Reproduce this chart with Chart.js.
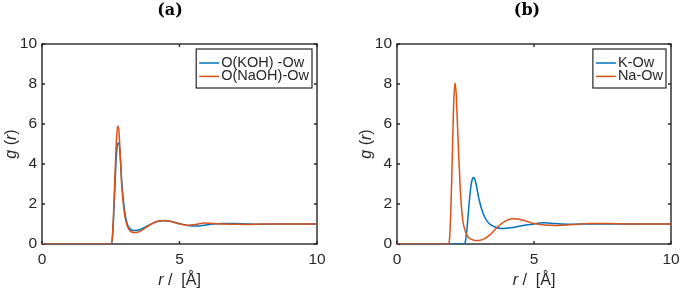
<!DOCTYPE html>
<html>
<head>
<meta charset="utf-8">
<script src="https://cdn.jsdelivr.net/npm/chart.js@4.4.0/dist/chart.umd.min.js"></script>
<style>
  html, body { margin: 0; padding: 0; background: #fff; overflow: hidden; }
  .panel { position: absolute; top: 0; width: 340px; height: 291px; }
  #panelA { left: 0; }
  #panelB { left: 340px; }
</style>
</head>
<body>
<div class="panel" id="panelA"><canvas id="chartA" width="340" height="291"></canvas></div>
<div class="panel" id="panelB"><canvas id="chartB" width="340" height="291"></canvas></div>
<script>
// axis ticks (both panels)
const xTicks = [0, 5, 10];
const yTicks = [0, 2, 4, 6, 8, 10];

// panel (a): O(KOH)-Ow and O(NaOH)-Ow
const rA = [0, 2.5, 2.55, 2.6, 2.65, 2.7, 2.75, 2.8, 2.85, 2.9, 3.0, 3.1, 3.2, 3.3, 3.4, 3.6, 3.8, 4.0, 4.2, 4.45, 4.7, 5.0, 5.3, 5.6, 5.9, 6.2, 6.6, 7.0, 7.5, 8, 9, 10];
const gKOH = [0, 0, 0.15, 1.2, 2.8, 4.3, 5.0, 5.05, 4.3, 3.1, 1.7, 1.0, 0.76, 0.68, 0.67, 0.74, 0.88, 1.02, 1.12, 1.16, 1.12, 1.02, 0.93, 0.9, 0.94, 1.0, 1.03, 1.03, 1.0, 0.99, 1.0, 1.0];
const gNaOH = [0, 0, 0.2, 1.5, 3.3, 5.0, 5.9, 5.6, 4.3, 2.9, 1.5, 0.9, 0.66, 0.58, 0.57, 0.66, 0.84, 1.02, 1.14, 1.18, 1.12, 1.0, 0.94, 0.98, 1.05, 1.03, 1.0, 0.99, 0.98, 1.0, 1.0, 1.0];

// panel (b): K-Ow and Na-Ow
const rK = [0, 2.45, 2.5, 2.55, 2.6, 2.65, 2.7, 2.75, 2.8, 2.85, 2.9, 3.0, 3.1, 3.2, 3.3, 3.4, 3.6, 3.8, 4.0, 4.3, 4.6, 5.0, 5.3, 5.6, 6.0, 6.5, 7.0, 7.5, 8.0, 9.0, 10];
const gK = [0, 0, 0.15, 0.7, 1.5, 2.3, 2.9, 3.25, 3.33, 3.2, 2.9, 2.2, 1.7, 1.35, 1.12, 0.98, 0.84, 0.78, 0.79, 0.84, 0.92, 1.0, 1.06, 1.04, 1.0, 0.99, 1.0, 1.0, 1.0, 1.0, 1.0];
const rNa = [0, 1.88, 1.92, 1.96, 2.0, 2.04, 2.08, 2.12, 2.16, 2.2, 2.25, 2.3, 2.35, 2.4, 2.5, 2.6, 2.7, 2.8, 2.9, 3.0, 3.2, 3.4, 3.6, 3.8, 4.0, 4.2, 4.4, 4.7, 5.0, 5.4, 5.8, 6.2, 6.6, 7.0, 7.5, 8.0, 9.0, 10];
const gNa = [0, 0, 0.3, 1.5, 3.4, 5.6, 7.4, 8.05, 7.5, 6.2, 4.5, 3.0, 1.9, 1.2, 0.6, 0.35, 0.24, 0.19, 0.17, 0.18, 0.27, 0.47, 0.75, 1.0, 1.18, 1.26, 1.25, 1.15, 1.02, 0.95, 0.93, 0.95, 0.99, 1.03, 1.03, 1.01, 1.0, 1.0];

const blue = '#0072BD';
const orange = '#D95319';
const ink = '#262626';
const sans = '"Liberation Sans", Arial, sans-serif';

function series(label, r, g, color, order) {
  return {
    label: label,
    data: r.map((x, i) => ({ x: x, y: g[i] })),
    borderColor: color,
    backgroundColor: color,
    borderWidth: 1.5,
    pointRadius: 0,
    fill: false,
    cubicInterpolationMode: 'monotone',
    order: order
  };
}

// draw text made of upright / italic pieces, centred on (x, y)
function drawRich(ctx, parts, x, y, size, rotate) {
  ctx.save();
  ctx.translate(x, y);
  if (rotate) ctx.rotate(-Math.PI / 2);
  const fonts = parts.map(p => (p[1] ? 'italic ' : '') + size + 'px ' + sans);
  let total = 0;
  const widths = parts.map((p, i) => {
    ctx.font = fonts[i];
    const w = ctx.measureText(p[0]).width;
    total += w;
    return w;
  });
  let cx = -total / 2;
  ctx.textAlign = 'left';
  ctx.textBaseline = 'middle';
  ctx.fillStyle = ink;
  parts.forEach((p, i) => {
    ctx.font = fonts[i];
    ctx.fillText(p[0], cx, 0);
    cx += widths[i];
  });
  ctx.restore();
}

// MATLAB style box with inward ticks on all sides
const framePlugin = {
  id: 'frame',
  beforeDatasetsDraw(chart) {
    const { ctx, chartArea: a, scales } = chart;
    ctx.save();
    ctx.strokeStyle = ink;
    ctx.lineWidth = 1.4;
    ctx.strokeRect(a.left, a.top, a.right - a.left, a.bottom - a.top);
    ctx.beginPath();
    xTicks.forEach(v => {
      const px = scales.x.getPixelForValue(v);
      ctx.moveTo(px, a.bottom); ctx.lineTo(px, a.bottom - 3);
      ctx.moveTo(px, a.top); ctx.lineTo(px, a.top + 3);
    });
    yTicks.forEach(v => {
      const py = scales.y.getPixelForValue(v);
      ctx.moveTo(a.left, py); ctx.lineTo(a.left + 3, py);
      ctx.moveTo(a.right, py); ctx.lineTo(a.right - 3, py);
    });
    ctx.stroke();
    ctx.restore();
  },
  afterDraw(chart) {
    const { ctx, chartArea: a } = chart;
    const o = chart.options.plugins.frame;
    // panel title
    ctx.save();
    ctx.font = 'bold 16px "DejaVu Serif", serif';
    ctx.fillStyle = '#000';
    ctx.textAlign = 'center';
    ctx.textBaseline = 'middle';
    ctx.fillText(o.title, o.titleX, 11);
    ctx.restore();
    // axis titles
    drawRich(ctx, [['r', true], [' /  [Å]', false]], (a.left + a.right) / 2, 281, 16, false);
    drawRich(ctx, [['g', true], [' (', false], ['r', true], [')', false]], a.left - 30, (a.top + a.bottom) / 2, 16, true);
    // legend
    const sets = chart.data.datasets;
    ctx.save();
    ctx.font = '14.5px ' + sans;
    const tw = Math.max(...sets.map(d => ctx.measureText(d.label).width));
    const boxW = tw + 28;
    const boxR = a.right - 5;
    const boxL = boxR - boxW;
    const boxT = a.top + 5;
    ctx.fillStyle = '#fff';
    ctx.fillRect(boxL, boxT, boxW, 39);
    ctx.strokeStyle = ink;
    ctx.lineWidth = 1.2;
    ctx.strokeRect(boxL, boxT, boxW, 39);
    ctx.textAlign = 'left';
    ctx.textBaseline = 'middle';
    sets.forEach((d, i) => {
      const y = boxT + 14 + i * 13.4;
      ctx.strokeStyle = d.borderColor;
      ctx.lineWidth = 1.5;
      ctx.beginPath();
      ctx.moveTo(boxL + 3, y);
      ctx.lineTo(boxL + 23, y);
      ctx.stroke();
      ctx.fillStyle = ink;
      ctx.fillText(d.label, boxL + 25, y);
    });
    ctx.restore();
  }
};

function makeChart(id, title, titleX, datasets, plotLeft, plotRight) {
  return new Chart(document.getElementById(id), {
    type: 'line',
    data: { datasets: datasets },
    options: {
      responsive: false,
      animation: false,
      devicePixelRatio: 1,
      layout: { padding: { left: 0, right: 340 - plotRight, top: 44, bottom: 0 } },
      plugins: {
        legend: { display: false },
        tooltip: { enabled: false },
        frame: { title: title, titleX: titleX }
      },
      scales: {
        x: {
          type: 'linear',
          min: 0,
          max: 10,
          grid: { display: false, drawTicks: false },
          border: { display: false },
          afterBuildTicks: s => { s.ticks = xTicks.map(v => ({ value: v })); },
          afterFit: s => { s.height = 47; s.paddingLeft = 0; s.paddingRight = 0; },
          ticks: { color: ink, font: { family: sans, size: 15.5 }, padding: 6, maxRotation: 0 }
        },
        y: {
          min: 0,
          max: 10,
          grid: { display: false, drawTicks: false },
          border: { display: false },
          afterBuildTicks: s => { s.ticks = yTicks.map(v => ({ value: v })); },
          afterFit: s => { s.width = plotLeft; s.paddingTop = 0; s.paddingBottom = 0; },
          ticks: { color: ink, font: { family: sans, size: 15.5 }, padding: 5 }
        }
      }
    },
    plugins: [framePlugin]
  });
}

makeChart('chartA', '(a)', 170, [
  series('O(KOH) -Ow', rA, gKOH, blue, 2),
  series('O(NaOH)-Ow', rA, gNaOH, orange, 1)
], 42, 317);

makeChart('chartB', '(b)', 187, [
  series('K-Ow', rK, gK, blue, 2),
  series('Na-Ow', rNa, gNa, orange, 1)
], 57, 331);
</script>
</body>
</html>
